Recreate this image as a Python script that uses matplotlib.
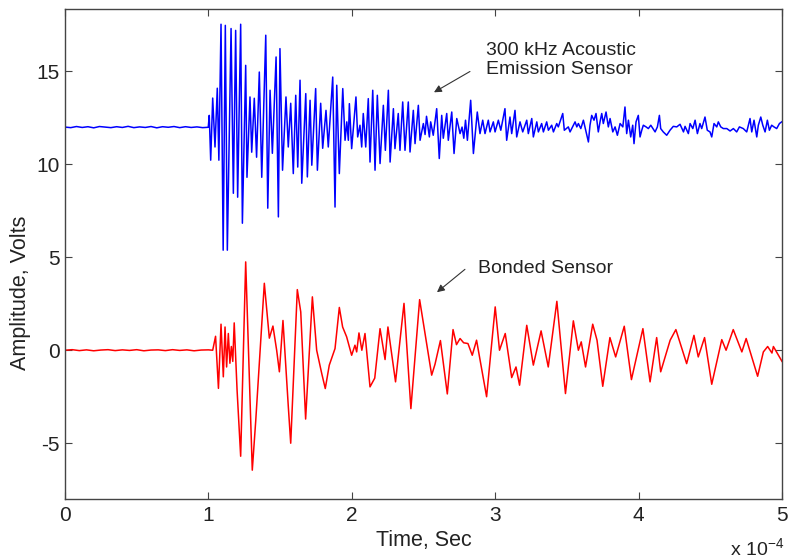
import matplotlib
matplotlib.use("Agg")
import matplotlib.pyplot as plt

plt.rcParams['font.family'] = ['Liberation Sans', 'DejaVu Sans']
plt.rcParams['mathtext.default'] = 'regular'

# Time axis in units of 1e-4 s
# 300 kHz acoustic-emission sensor (offset by +12 V)
ae_time = [0.00, 0.04, 0.08, 0.12, 0.16, 0.20, 0.24, 0.28, 0.32, 0.36, 0.40, 0.44,
           0.48, 0.52, 0.56, 0.60, 0.64, 0.68, 0.72, 0.76, 0.80, 0.84, 0.88, 0.92,
           0.96, 0.999,
           1.006, 1.016, 1.030, 1.046, 1.062, 1.073, 1.088, 1.103, 1.118, 1.132,
           1.158, 1.174, 1.190, 1.204, 1.225, 1.237, 1.260, 1.269, 1.290, 1.302,
           1.320, 1.336, 1.355, 1.372, 1.400, 1.414, 1.430, 1.446, 1.472, 1.488,
           1.499, 1.517, 1.541, 1.557, 1.574, 1.592, 1.609, 1.623, 1.639, 1.651,
           1.679, 1.690, 1.709, 1.721, 1.748, 1.760, 1.783, 1.797, 1.820, 1.836,
           1.867, 1.883, 1.895, 1.913, 1.937, 1.953, 1.965, 1.976, 1.983, 1.999,
           2.029, 2.041, 2.057, 2.069, 2.080, 2.097, 2.115, 2.127, 2.146, 2.162,
           2.178, 2.197, 2.220, 2.234, 2.255, 2.267, 2.290, 2.301, 2.324, 2.336,
           2.355, 2.371, 2.394, 2.406, 2.429, 2.441, 2.464, 2.476, 2.499, 2.511,
           2.521, 2.541, 2.550, 2.568, 2.592, 2.610, 2.627, 2.638, 2.662, 2.673,
           2.697, 2.713, 2.732, 2.755, 2.769, 2.781, 2.793, 2.806, 2.829, 2.848,
           2.875, 2.894, 2.913, 2.929, 2.952, 2.964, 2.987, 2.999, 3.022, 3.039,
           3.068, 3.080, 3.103, 3.115, 3.138, 3.150, 3.173, 3.192, 3.220, 3.231,
           3.255, 3.266, 3.290, 3.301, 3.324, 3.336, 3.359, 3.371, 3.394, 3.406,
           3.429, 3.440, 3.471, 3.482, 3.510, 3.522, 3.557, 3.569, 3.580, 3.597,
           3.615, 3.634, 3.650, 3.661, 3.673, 3.689, 3.703, 3.719, 3.731, 3.743,
           3.754, 3.773, 3.789, 3.801, 3.820, 3.836, 3.852, 3.871, 3.890, 3.905,
           3.917, 3.929, 3.945, 3.959, 3.968, 3.982, 3.998, 4.010, 4.022, 4.033,
           4.052, 4.068, 4.085, 4.115, 4.131, 4.145, 4.154, 4.172, 4.196, 4.219,
           4.242, 4.266, 4.289, 4.313, 4.324, 4.347, 4.359, 4.378, 4.394, 4.410,
           4.428, 4.440, 4.463, 4.479, 4.498, 4.510, 4.526, 4.545, 4.556, 4.573,
           4.591, 4.615, 4.638, 4.661, 4.684, 4.703, 4.730, 4.754, 4.777, 4.789,
           4.805, 4.824, 4.835, 4.852, 4.866, 4.882, 4.898, 4.912, 4.928, 4.944,
           4.963, 4.982, 4.998]
ae_volts = [12.00, 11.97, 12.03, 11.98, 12.02, 11.96, 12.03, 12.00, 11.97, 12.02,
            11.98, 12.04, 11.97, 12.01, 11.98, 12.03, 11.96, 12.02, 11.99, 12.03,
            11.97, 12.02, 11.98, 12.01, 11.97, 11.99,
            12.63, 10.22, 13.56, 10.93, 14.09, 10.22, 17.53, 5.38, 17.47, 5.38,
            17.30, 8.44, 17.20, 8.23, 17.53, 6.83, 15.32, 9.30, 13.62, 10.65,
            13.55, 10.38, 14.96, 9.30, 16.94, 7.64, 13.98, 10.59, 15.77, 7.17,
            16.22, 9.68, 13.62, 10.93, 13.28, 9.50, 13.71, 9.85, 14.52, 8.98,
            13.80, 9.32, 13.44, 9.95, 14.07, 9.68, 13.28, 10.86, 12.90, 10.93,
            14.69, 7.70, 14.25, 9.50, 14.07, 11.29, 12.28, 11.29, 13.26, 10.84,
            13.62, 11.47, 12.10, 10.93, 12.73, 10.93, 13.53, 10.12, 13.98, 9.68,
            13.71, 10.04, 13.17, 10.75, 13.98, 10.12, 12.99, 10.84, 12.73, 10.75,
            13.35, 10.75, 13.35, 10.66, 12.90, 11.11, 13.17, 11.29, 12.19, 11.60,
            12.58, 11.47, 12.28, 11.56, 12.99, 10.31, 12.63, 11.40, 12.73, 11.29,
            12.81, 10.58, 12.46, 11.65, 12.00, 11.40, 12.37, 11.29, 13.44, 10.58,
            12.81, 11.65, 12.37, 11.65, 12.37, 11.74, 12.28, 11.74, 12.37, 11.83,
            12.99, 11.29, 12.54, 11.65, 12.90, 11.47, 12.28, 11.74, 12.37, 11.65,
            12.46, 11.47, 12.28, 11.74, 12.19, 11.74, 12.28, 11.83, 12.10, 11.74,
            12.19, 12.01, 12.73, 11.83, 12.01, 11.74, 12.28, 12.01, 12.19, 11.92,
            12.37, 11.74, 11.20, 12.10, 12.63, 12.37, 12.73, 11.74, 12.28, 12.73,
            12.19, 12.81, 12.01, 12.46, 11.74, 12.01, 11.56, 12.19, 12.01, 13.08,
            11.65, 12.37, 11.47, 12.10, 11.11, 12.28, 12.63, 11.47, 11.83, 12.10,
            12.01, 11.92, 12.10, 11.74, 12.01, 12.63, 11.92, 11.74, 11.56, 11.83,
            12.04, 12.01, 12.15, 11.74, 12.04, 11.65, 12.19, 11.92, 12.37, 11.65,
            12.19, 11.92, 12.54, 11.83, 11.74, 11.47, 12.19, 12.01, 12.28, 12.01,
            11.92, 11.92, 11.79, 11.92, 11.74, 12.01, 11.92, 11.74, 12.46, 11.74,
            12.37, 11.47, 12.10, 12.54, 12.10, 11.74, 12.37, 11.83, 12.10, 12.01,
            11.92, 12.19, 12.28]

# Bonded sensor
bs_time = [0.00, 0.05, 0.10, 0.15, 0.20, 0.25, 0.30, 0.35, 0.40, 0.45, 0.50, 0.55,
           0.60, 0.65, 0.70, 0.75, 0.80, 0.85, 0.90, 0.95, 1.00, 1.03,
           1.050, 1.070, 1.088, 1.104, 1.116, 1.127, 1.139, 1.150, 1.160, 1.170,
           1.180, 1.200, 1.225, 1.260, 1.306, 1.330, 1.390, 1.425, 1.450, 1.476,
           1.495, 1.520, 1.557, 1.574, 1.620, 1.644, 1.678, 1.725, 1.755, 1.790,
           1.815, 1.843, 1.883, 1.913, 1.936, 1.964, 1.999, 2.022, 2.034, 2.050,
           2.070, 2.092, 2.127, 2.160, 2.197, 2.232, 2.252, 2.305, 2.364, 2.412,
           2.473, 2.557, 2.580, 2.618, 2.666, 2.706, 2.730, 2.755, 2.780, 2.810,
           2.840, 2.870, 2.940, 3.000, 3.030, 3.070, 3.115, 3.145, 3.170, 3.220,
           3.266, 3.320, 3.370, 3.430, 3.490, 3.545, 3.580, 3.600, 3.630, 3.680,
           3.710, 3.750, 3.800, 3.840, 3.900, 3.950, 4.030, 4.080, 4.126, 4.154,
           4.220, 4.260, 4.335, 4.386, 4.416, 4.460, 4.510, 4.580, 4.610, 4.660,
           4.720, 4.750, 4.830, 4.870, 4.900, 4.930, 4.940, 4.975, 5.000]
bs_volts = [0.00, 0.03, -0.02, 0.02, -0.03, 0.01, 0.03, -0.02, 0.02, -0.01, 0.03, -0.03,
            0.01, 0.02, -0.02, 0.03, -0.01, 0.02, -0.03, 0.01, 0.02, 0.00,
            0.75, -2.05, 1.40, -1.43, 1.25, -0.90, 0.90, -0.70, 0.20, -0.60,
            1.47, -2.15, -5.70, 4.75, -6.45, -3.80, 3.60, 0.65, 1.30, 0.00,
            -1.16, 1.60, -3.00, -5.00, 3.26, 2.06, -3.70, 2.87, 0.00, -1.24,
            -2.06, -0.80, 0.09, 2.30, 1.25, 0.72, -0.27, 0.27, -0.09, 0.93,
            0.00, 0.90, -1.97, -1.50, 1.16, -0.50, 1.25, -1.70, 2.52, -3.14,
            2.72, -1.34, -0.76, 0.52, -2.35, 1.11, 0.30, 0.63, 0.40, 0.36,
            -0.27, 0.54, -2.50, 2.33, 0.00, 0.90, -1.47, -0.90, -1.88, 1.34,
            -0.80, 1.04, -0.90, 2.63, -2.33, 1.58, 0.00, 0.45, -0.90, 1.40,
            0.54, -1.94, 0.68, -0.36, 1.29, -1.58, 1.16, -1.70, 0.68, -1.16,
            0.54, 1.11, -0.72, 0.80, -0.36, 0.68, -1.83, 0.57, 0.00, 1.11,
            -0.09, 0.63, -1.40, -0.09, 0.20, -0.15, 0.20, -0.27, -0.60]

x_ticks = [0, 1, 2, 3, 4, 5]
y_ticks = [-5, 0, 5, 10, 15]

fig = plt.figure(figsize=(7.9, 5.59), dpi=100)
ax = fig.add_axes([65 / 790, 60 / 559, 717 / 790, 490 / 559])

ax.plot(ae_time, ae_volts, color='#0000ff', lw=1.1, solid_joinstyle='round')
ax.plot(bs_time, bs_volts, color='#ff0000', lw=1.1, solid_joinstyle='round')

ax.set_xlim(0, 5)
ax.set_ylim(-8, 18.35)
ax.set_xticks(x_ticks)
ax.set_yticks(y_ticks)
ax.set_xticklabels([str(v) for v in x_ticks])
ax.set_yticklabels([str(v) for v in y_ticks])

for side in ax.spines.values():
    side.set_color('#444444')
    side.set_linewidth(1.0)
ax.tick_params(direction='in', length=5, width=0.8, color='#444444',
               top=True, right=True, labelsize=15, labelcolor='#222222')
ax.tick_params(axis='x', pad=5)
ax.tick_params(axis='y', pad=4)

ax.set_xlabel('Time, Sec', fontsize=15.5, color='#222222')
ax.set_ylabel('Amplitude, Volts', fontsize=15.5, color='#222222')
ax.xaxis.set_label_coords(0.5, -0.063)
ax.yaxis.set_label_coords(-0.047, 0.42)

fig.text(730 / 790, 1 - 548 / 559, 'x 10$^{-4}$', fontsize=14, color='#222222',
         ha='left', va='center')

# Sensor labels and their pointers
ax.text(2.936, 15.6, '300 kHz Acoustic\nEmission Sensor', fontsize=14,
        color='#222222', ha='left', va='center', linespacing=1.15)
ax.annotate('', xy=(2.573, 13.87), xytext=(2.824, 14.99),
            arrowprops=dict(arrowstyle='-|>', color='#333333', lw=0.8,
                            mutation_scale=11, shrinkA=0, shrinkB=0))
ax.text(2.880, 4.41, 'Bonded Sensor', fontsize=14, color='#222222',
        ha='left', va='center')
ax.annotate('', xy=(2.594, 3.12), xytext=(2.789, 4.35),
            arrowprops=dict(arrowstyle='-|>', color='#333333', lw=0.8,
                            mutation_scale=11, shrinkA=0, shrinkB=0))

fig.savefig('out.png', dpi=100, facecolor='white')
